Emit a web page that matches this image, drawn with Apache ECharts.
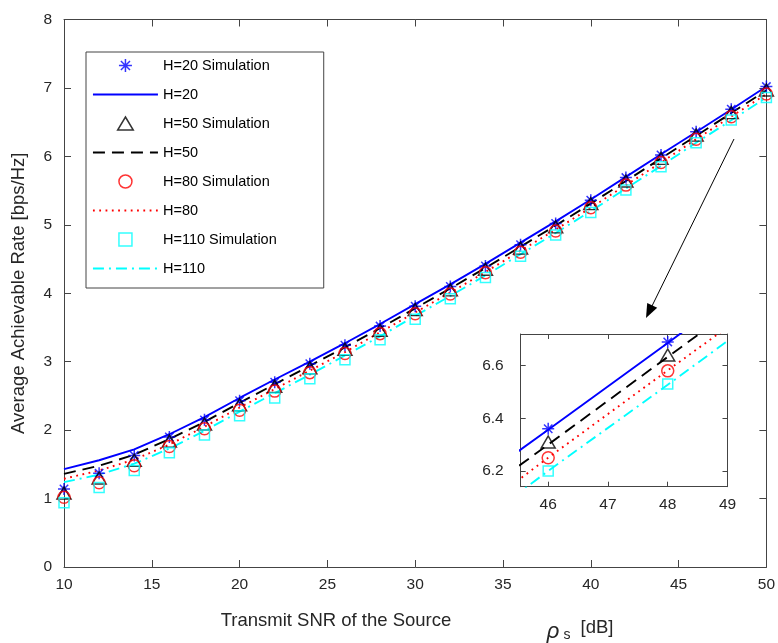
<!DOCTYPE html>
<html><head><meta charset="utf-8">
<script src="https://cdn.jsdelivr.net/npm/echarts@6/dist/echarts.min.js"></script>
<style>html,body{margin:0;padding:0;background:#fff}#c{width:778px;height:643px}</style>
</head><body><div id="c"></div>
<script>
// ---------------- data ----------------
const snr = [10,12,14,16,18,20,22,24,26,28,30,32,34,36,38,40,42,44,46,48,50];
const xTicksInset = [46,47,48,49];
const yTicksInset = [6.2,6.4,6.6];

const theoryH20  = [1.43,1.56,1.72,1.94,2.19,2.47,2.74,3.00,3.27,3.55,3.84,4.13,4.43,4.74,5.05,5.37,5.70,6.03,6.356,6.686,7.02];
const theoryH50  = [1.36,1.48,1.64,1.87,2.12,2.40,2.67,2.94,3.21,3.49,3.78,4.07,4.37,4.68,4.99,5.31,5.64,5.97,6.30,6.633,6.965];
const theoryH80  = [1.29,1.41,1.57,1.79,2.05,2.33,2.60,2.87,3.14,3.43,3.72,4.01,4.31,4.62,4.93,5.25,5.58,5.91,6.25,6.582,6.91];
const theoryH110 = [1.24,1.35,1.51,1.73,1.99,2.27,2.54,2.81,3.09,3.37,3.67,3.96,4.26,4.57,4.88,5.20,5.53,5.86,6.20,6.527,6.86];

const simH20  = [1.14,1.37,1.63,1.90,2.15,2.43,2.70,2.97,3.24,3.52,3.81,4.10,4.40,4.71,5.02,5.36,5.69,6.02,6.36,6.69,7.02];
const simH50  = [1.08,1.30,1.56,1.84,2.09,2.37,2.64,2.91,3.18,3.46,3.76,4.05,4.35,4.66,4.97,5.31,5.64,5.97,6.31,6.64,6.97];
const simH80  = [1.02,1.23,1.48,1.76,2.02,2.29,2.57,2.84,3.12,3.41,3.70,3.99,4.30,4.60,4.91,5.25,5.58,5.91,6.25,6.58,6.91];
const simH110 = [0.94,1.16,1.41,1.67,1.93,2.21,2.47,2.75,3.03,3.32,3.62,3.92,4.23,4.54,4.85,5.18,5.51,5.85,6.20,6.53,6.86];

const names = ['H=20 Simulation','H=20','H=50 Simulation','H=50','H=80 Simulation','H=80','H=110 Simulation','H=110'];

// ---------------- styles ----------------
const FONT = "'Liberation Sans', Arial, Helvetica, sans-serif";
const AX = '#444444';
const TXT = '#262626';
const STAR = 'path://M5,0L5,10M0,5L10,5M1.5,1.5L8.5,8.5M1.5,8.5L8.5,1.5';
const TRI = 'path://M5,0L10.4,9L-0.4,9Z';
const SQR = 'path://M0,0L10,0L10,10L0,10Z';

const pairs = arr => snr.map((x, i) => [x, arr[i]]);

function lineSeries(name, arr, color, type, xi, yi) {
  return { name, type: 'line', xAxisIndex: xi, yAxisIndex: yi, data: pairs(arr),
    symbol: 'none', showSymbol: false, clip: true, silent: true,
    lineStyle: { color, width: 1.9, type, cap: 'butt' }, itemStyle: { color }, z: 2 };
}
function simSeries(name, arr, color, symbol, size, xi, yi) {
  return { name, type: 'scatter', xAxisIndex: xi, yAxisIndex: yi, data: pairs(arr),
    symbol, symbolSize: size, clip: true, silent: true,
    itemStyle: { color: 'rgba(0,0,0,0)', borderColor: color, borderWidth: 1.5 }, z: 3 };
}
function allSeries(xi, yi) {
  return [
    lineSeries('H=20', theoryH20, '#0000FF', 'solid', xi, yi),
    lineSeries('H=50', theoryH50, '#000000', [12, 7], xi, yi),
    lineSeries('H=80', theoryH80, '#FF0000', [1.8, 4.5], xi, yi),
    lineSeries('H=110', theoryH110, '#00FFFF', [11, 5, 2, 5], xi, yi),
    simSeries('H=20 Simulation', simH20, '#0000FF', STAR, 12, xi, yi),
    simSeries('H=50 Simulation', simH50, '#000000', TRI, [14, 12], xi, yi),
    simSeries('H=80 Simulation', simH80, '#FF0000', 'circle', 12, xi, yi),
    simSeries('H=110 Simulation', simH110, '#00FFFF', SQR, 10, xi, yi)
  ];
}

function axis(opts) {
  const base = {
    type: 'value', splitLine: { show: false },
    axisLine: { show: true, onZero: false, lineStyle: { color: AX, width: 1 } },
    axisTick: { show: true, inside: true, length: opts.tickLen, lineStyle: { color: AX, width: 1 } },
    axisLabel: { show: opts.labels, color: TXT, fontSize: 15.5, fontFamily: FONT, margin: opts.margin }
  };
  if (opts.custom) {
    base.axisTick.customValues = opts.custom;
    base.axisLabel.customValues = opts.custom;
  }
  return Object.assign(base, opts.extra);
}

const chart = echarts.init(document.getElementById('c'), null, { renderer: 'canvas' });

const legendData = names.map(n => n.indexOf('Simulation') >= 0
  ? { name: n }
  : { name: n, itemStyle: { opacity: 0 } });

const option = {
  animation: false,
  backgroundColor: '#fff',
  textStyle: { fontFamily: FONT },
  grid: [
    { left: 64, right: 7, top: 19.5, bottom: 76, containLabel: false },
    { left: 520.7, right: 50.5, top: 334, bottom: 156.3, containLabel: false }
  ],
  xAxis: [
    axis({ tickLen: 7, labels: true, margin: 10, extra: { gridIndex: 0, position: 'bottom', min: 10, max: 50, interval: 5 } }),
    axis({ tickLen: 7, labels: false, margin: 10, extra: { gridIndex: 0, position: 'top', min: 10, max: 50, interval: 5 } }),
    axis({ tickLen: 5, labels: true, margin: 10, custom: xTicksInset, extra: { gridIndex: 1, position: 'bottom', min: 45.54, max: 49 } }),
    axis({ tickLen: 5, labels: false, margin: 10, custom: xTicksInset, extra: { gridIndex: 1, position: 'top', min: 45.54, max: 49 } })
  ],
  yAxis: [
    axis({ tickLen: 7, labels: true, margin: 12, extra: { gridIndex: 0, position: 'left', min: 0, max: 8, interval: 1,
      name: 'Average Achievable Rate [bps/Hz]', nameLocation: 'middle', nameGap: 36,
      nameTextStyle: { color: TXT, fontSize: 18.5, fontFamily: FONT } } }),
    axis({ tickLen: 7, labels: false, margin: 12, extra: { gridIndex: 0, position: 'right', min: 0, max: 8, interval: 1 } }),
    axis({ tickLen: 5, labels: true, margin: 17, custom: yTicksInset, extra: { gridIndex: 1, position: 'left', min: 6.14, max: 6.72 } }),
    axis({ tickLen: 5, labels: false, margin: 17, custom: yTicksInset, extra: { gridIndex: 1, position: 'right', min: 6.14, max: 6.72 } })
  ],
  legend: {
    orient: 'vertical', left: 86, top: 52,
    itemWidth: 65, itemHeight: 13, itemGap: 14,
    padding: [6, 47, 12, 6],
    borderColor: AX, borderWidth: 1, backgroundColor: '#fff',
    textStyle: { fontSize: 14.5, color: '#000', fontFamily: FONT },
    itemStyle: { borderWidth: 1.5 },
    lineStyle: { width: 1.9 },
    selectedMode: false,
    data: legendData
  },
  series: [].concat(allSeries(0, 0), allSeries(2, 2)),
  graphic: [
    { type: 'text', x: 336, y: 621, silent: true,
      style: { text: 'Transmit SNR of the Source', align: 'center', verticalAlign: 'middle',
        font: '18.5px ' + FONT, fill: TXT } },
    { type: 'text', x: 553, y: 632, silent: true,
      style: { text: 'ρ', align: 'center', verticalAlign: 'middle', font: 'italic 22px ' + FONT, fill: TXT } },
    { type: 'text', x: 567, y: 635, silent: true,
      style: { text: 's', align: 'center', verticalAlign: 'middle', font: '14px ' + FONT, fill: TXT } },
    { type: 'text', x: 597, y: 628, silent: true,
      style: { text: '[dB]', align: 'center', verticalAlign: 'middle', font: '18.5px ' + FONT, fill: TXT } },
    { type: 'line', silent: true, z: 10,
      shape: { x1: 734, y1: 139, x2: 652, y2: 306 }, style: { stroke: '#000', lineWidth: 1 } },
    { type: 'polygon', silent: true, z: 10,
      shape: { points: [[646, 318], [657.2, 307.8], [647.2, 302.9]] }, style: { fill: '#000' } }
  ]
};
chart.setOption(option);
</script>
</body></html>
